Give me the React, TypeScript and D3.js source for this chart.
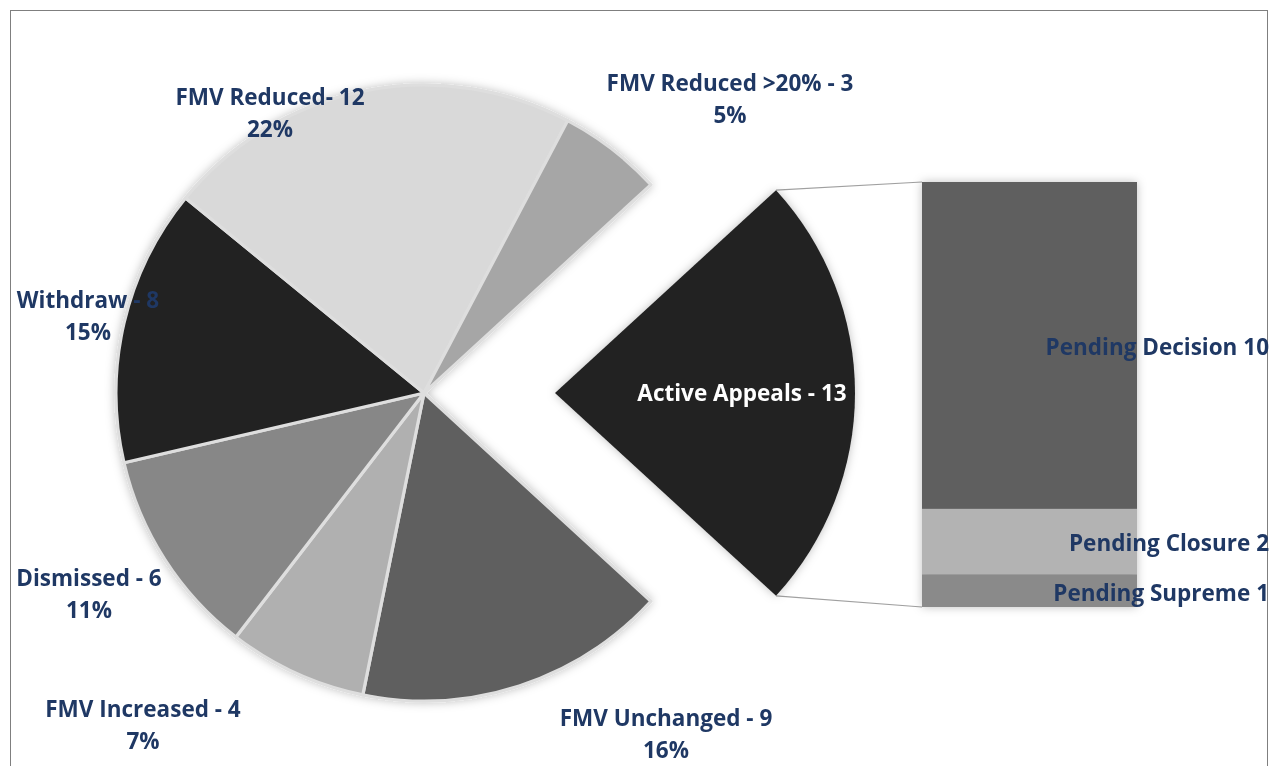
import * as d3 from 'd3';

// Pie slices, in drawing order (clockwise from the exploded slice)
const pieCategories = ['Active Appeals', 'FMV Unchanged', 'FMV Increased', 'Dismissed', 'Withdraw', 'FMV Reduced', 'FMV Reduced >20%'];
const pieValues = [13, 9, 4, 6, 8, 12, 3];
const pieLabels = ['Active Appeals - 13', 'FMV Unchanged - 9', 'FMV Increased - 4', 'Dismissed - 6', 'Withdraw - 8', 'FMV Reduced- 12', 'FMV Reduced >20% - 3'];

// Breakdown of the exploded slice, top to bottom
const barCategories = ['Pending Decision', 'Pending Closure', 'Pending Supreme'];
const barValues = [10, 2, 1];

const pieColors = ['#212121', '#5f5f5f', '#b0b0b0', '#878787', '#212121', '#d9d9d9', '#a6a6a6'];
const barColors = ['#5f5f5f', '#b3b3b3', '#8a8a8a'];

// label anchor points (center of the first label line)
const labelPos: Record<string, [number, number]> = {
  'FMV Unchanged': [666, 718],
  'FMV Increased': [143, 709],
  'Dismissed': [89, 578],
  'Withdraw': [88, 300],
  'FMV Reduced': [270, 97],
  'FMV Reduced >20%': [730, 83],
};
const lineGap = 32;

const W = 1278;
const H = 766;
const cx = 424;
const cy = 393;
const radius = 308;
const activeRadius = 300;
const activeApexX = 555;
const barLeft = 922;
const barWidth = 215;
const barTop = 182;
const barBottom = 607;
const navy = '#1f3864';
const font = '"Open Sans", Lato, sans-serif';
const fontSize = 22.5;

export default function App() {
  const total = d3.sum(pieValues);
  const half = (pieValues[0] / total) * Math.PI;
  const start = Math.PI / 2 - half;

  const pie = d3.pie<number>()
    .sort(null)
    .value(d => d)
    .startAngle(start)
    .endAngle(start + 2 * Math.PI);
  const arcs = pie(pieValues);

  const arc = d3.arc<d3.PieArcDatum<number>>()
    .innerRadius(0)
    .outerRadius(radius);
  const activeArc = d3.arc<d3.PieArcDatum<number>>()
    .innerRadius(0)
    .outerRadius(activeRadius);

  // stacked bar, first category on top
  const y = d3.scaleLinear()
    .domain([0, d3.sum(barValues)])
    .range([barTop, barBottom]);
  let acc = 0;
  const stacks = barValues.map((v, i) => {
    const s = { key: barCategories[i], v, y0: y(acc), y1: y(acc + v), color: barColors[i] };
    acc += v;
    return s;
  });

  // connector lines from exploded slice edges to the bar
  const pt = (a: number): [number, number] => [
    activeApexX + activeRadius * Math.sin(a),
    cy - activeRadius * Math.cos(a),
  ];
  const p0 = pt(arcs[0].startAngle);
  const p1 = pt(arcs[0].endAngle);

  return (
    <svg width={W} height={H} style={{ position: 'absolute', left: 0, top: 0, background: '#fff' }}>
      <defs>
        <filter id="soft" x="-20%" y="-20%" width="140%" height="140%">
          <feDropShadow dx="0" dy="0" stdDeviation="5" floodColor="#000" floodOpacity="0.25" />
        </filter>
      </defs>
      <rect x={10.5} y={10.5} width={1257} height={800} fill="#fff" stroke="#7f7f7f" strokeWidth={1} />

      {/* connectors */}
      <line x1={p0[0]} y1={p0[1]} x2={barLeft} y2={barTop} stroke="#a0a0a0" strokeWidth={1.2} />
      <line x1={p1[0]} y1={p1[1]} x2={barLeft} y2={barBottom} stroke="#a0a0a0" strokeWidth={1.2} />

      {/* pie */}
      <g filter="url(#soft)">
        {arcs.map((d, i) => (
          <path
            key={pieCategories[i]}
            d={(i === 0 ? activeArc(d) : arc(d)) as string}
            transform={`translate(${i === 0 ? activeApexX : cx},${cy})`}
            fill={pieColors[i]}
            stroke={i === 0 ? 'none' : '#dedede'}
            strokeWidth={3.2}
            strokeLinejoin="round"
          />
        ))}
      </g>

      {/* bar of pie */}
      <g filter="url(#soft)">
        {stacks.map(s => (
          <rect key={s.key} x={barLeft} y={s.y0} width={barWidth} height={s.y1 - s.y0} fill={s.color} />
        ))}
      </g>

      {/* pie labels */}
      <g fontFamily={font} fontWeight={700} fontSize={fontSize} fill={navy} textAnchor="middle">
        {pieCategories.map((c, i) => {
          if (i === 0) return null;
          const [lx, ly] = labelPos[c];
          const pct = Math.round((pieValues[i] / total) * 100);
          return (
            <g key={c}>
              <text x={lx} y={ly} dy="0.36em">{pieLabels[i]}</text>
              <text x={lx} y={ly + lineGap} dy="0.36em">{pct}%</text>
            </g>
          );
        })}
        <text x={742} y={cy} dy="0.36em" fill="#fff">
          {pieLabels[0]}
        </text>
      </g>

      {/* bar labels */}
      <g fontFamily={font} fontWeight={700} fontSize={fontSize} fill={navy} textAnchor="end">
        {stacks.map(s => {
          const mid = (s.y0 + s.y1) / 2;
          const ly = s.key === 'Pending Supreme' ? mid + 2 : mid + 1;
          return (
            <text key={s.key} x={1269} y={ly} dy="0.36em">
              {s.key} {s.v}
            </text>
          );
        })}
      </g>
    </svg>
  );
}
